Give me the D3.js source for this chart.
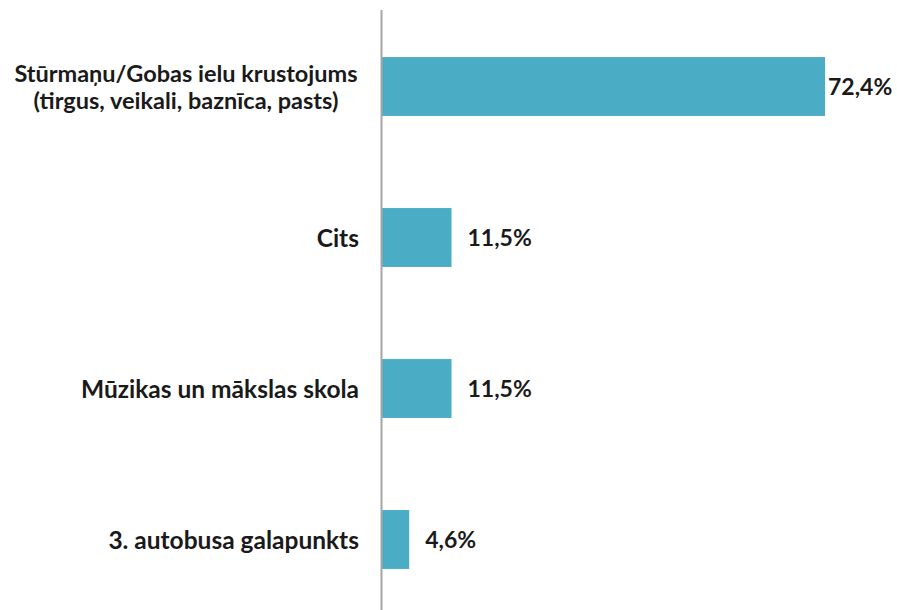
<!DOCTYPE html>
<html>
<head>
<meta charset="utf-8">
<script src="https://cdn.jsdelivr.net/npm/d3@7"></script>
<style>
  body { margin: 0; background: #fff; }
  text { font-family: Lato, Calibri, sans-serif; font-weight: bold; fill: #1a1a1a; }
</style>
</head>
<body>
<svg id="chart" width="897" height="610"></svg>
<script>
// categories top to bottom, each label may span two lines
const categories = [
  ["Stūrmaņu/Gobas ielu krustojums", "(tirgus, veikali, baznīca, pasts)"],
  ["Cits"],
  ["Mūzikas un mākslas skola"],
  ["3. autobusa galapunkts"]
];
const values = [72.4, 11.5, 11.5, 4.6];

const width = 897, height = 610;
const axisX = 381;

const svg = d3.select("#chart");

const x = d3.scaleLinear().domain([0, 72.4]).range([axisX, 825]);
const y = d3.scaleBand()
  .domain(d3.range(categories.length))
  .range([11, 615])
  .paddingInner(0.61)
  .paddingOuter(0.305);

// bars
svg.selectAll("rect.bar")
  .data(values)
  .join("rect")
  .attr("class", "bar")
  .attr("x", x(0))
  .attr("y", (d, i) => y(i))
  .attr("width", d => x(d) - x(0))
  .attr("height", y.bandwidth())
  .attr("fill", "#4bacc6");

// vertical axis line
svg.append("line")
  .attr("x1", axisX + 0.5).attr("x2", axisX + 0.5)
  .attr("y1", 10).attr("y2", height)
  .attr("stroke", "#a6a6a6")
  .attr("stroke-width", 2);

// category labels
const fmt = v => d3.format(".1f")(v).replace(".", ",") + "%";

categories.forEach((lines, i) => {
  const cy = y(i) + y.bandwidth() / 2;
  const multi = lines.length > 1;
  const t = svg.append("text")
    .attr("text-anchor", multi ? "middle" : "end")
    .style("font-size", multi ? "23.5px" : "24.5px");
  lines.forEach((ln, k) => {
    t.append("tspan")
      .attr("x", multi ? 186 : 359)
      .attr("y", cy + (k - (lines.length - 1) / 2) * 27)
      .attr("dy", "0.38em")
      .text(ln);
  });
});

// value labels
svg.selectAll("text.val")
  .data(values)
  .join("text")
  .attr("class", "val")
  .attr("x", d => Math.min(x(d) + 16, width - 69))
  .attr("y", (d, i) => y(i) + y.bandwidth() / 2)
  .attr("dy", "0.38em")
  .style("font-size", "23px")
  .text(fmt);
</script>
</body>
</html>
